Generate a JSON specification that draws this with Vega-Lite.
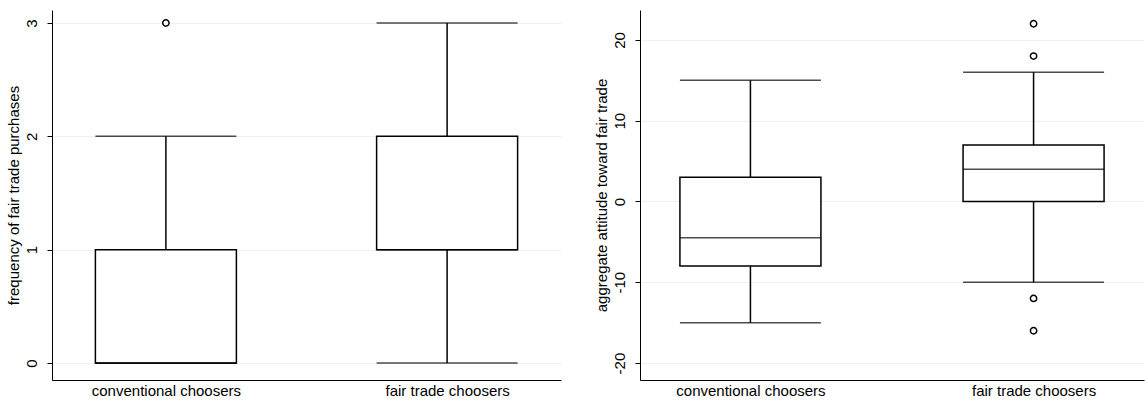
{
  "$schema": "https://vega.github.io/schema/vega-lite/v6.json",
  "padding": {"left": 5, "top": 10, "right": 2, "bottom": 0},
  "autosize": {"type": "pad"},
  "background": "white",
  "datasets": {
    "freq_boxes": [
      {"group": "conventional choosers", "lo": 0, "q1": 0, "median": 0, "q3": 1, "hi": 2},
      {"group": "fair trade choosers", "lo": 0, "q1": 1, "median": 1, "q3": 2, "hi": 3}
    ],
    "freq_out": [
      {"group": "conventional choosers", "value": 3}
    ],
    "att_boxes": [
      {"group": "conventional choosers", "lo": -15, "q1": -8, "median": -4.5, "q3": 3, "hi": 15},
      {"group": "fair trade choosers", "lo": -10, "q1": 0, "median": 4, "q3": 7, "hi": 16}
    ],
    "att_out": [
      {"group": "fair trade choosers", "value": 22},
      {"group": "fair trade choosers", "value": 18},
      {"group": "fair trade choosers", "value": -12},
      {"group": "fair trade choosers", "value": -16}
    ]
  },
  "config": {
    "view": {"stroke": null},
    "font": "Liberation Sans",
    "axis": {
      "labelFont": "Liberation Sans",
      "titleFont": "Liberation Sans",
      "labelFontSize": 15,
      "titleFontSize": 15,
      "titleFontWeight": "normal",
      "labelColor": "#000",
      "titleColor": "#000",
      "domainColor": "#000",
      "tickColor": "#000",
      "gridColor": "#eaf2f3",
      "gridWidth": 1
    }
  },
  "spacing": 33,
  "hconcat": [
    {
      "width": 509,
      "height": 370,
      "layer": [
        {
          "data": {"name": "freq_boxes"},
          "mark": {"type": "rule", "color": "#000", "strokeWidth": 1.5},
          "encoding": {
            "x": {"field": "group", "type": "nominal", "scale": {"type": "point", "padding": 0.405}, "axis": {"title": null, "ticks": false, "labelAngle": 0, "labelPadding": 3, "grid": false}},
            "y": {"field": "lo", "type": "quantitative", "scale": {"domain": [-0.15, 3.115], "nice": false, "zero": false}, "axis": {"title": "frequency of fair trade purchases", "values": [0, 1, 2, 3], "labelExpr": "datum.value < 0 ? '-' + abs(datum.value) : '' + datum.value", "labelAngle": -90, "tickSize": 5, "labelPadding": 8, "titlePadding": 3, "grid": true}},
            "y2": {"field": "hi"}
          }
        },
        {
          "data": {"name": "freq_boxes"},
          "mark": {"type": "tick", "color": "#000", "thickness": 1.5, "size": 141},
          "encoding": {"x": {"field": "group", "type": "nominal"}, "y": {"field": "lo", "type": "quantitative"}}
        },
        {
          "data": {"name": "freq_boxes"},
          "mark": {"type": "tick", "color": "#000", "thickness": 1.5, "size": 141},
          "encoding": {"x": {"field": "group", "type": "nominal"}, "y": {"field": "hi", "type": "quantitative"}}
        },
        {
          "data": {"name": "freq_boxes"},
          "mark": {"type": "bar", "width": 141, "fill": "white", "stroke": "#000", "strokeWidth": 1.5},
          "encoding": {"x": {"field": "group", "type": "nominal"}, "y": {"field": "q1", "type": "quantitative"}, "y2": {"field": "q3"}}
        },
        {
          "data": {"name": "freq_boxes"},
          "mark": {"type": "tick", "color": "#000", "thickness": 1.5, "size": 141},
          "encoding": {"x": {"field": "group", "type": "nominal"}, "y": {"field": "median", "type": "quantitative"}}
        },
        {
          "data": {"name": "freq_out"},
          "mark": {"type": "point", "shape": "circle", "filled": false, "stroke": "#000", "strokeWidth": 1.5, "size": 40, "opacity": 1},
          "encoding": {"x": {"field": "group", "type": "nominal"}, "y": {"field": "value", "type": "quantitative"}}
        }
      ]
    },
    {
      "width": 504,
      "height": 370,
      "layer": [
        {
          "data": {"name": "att_boxes"},
          "mark": {"type": "rule", "color": "#000", "strokeWidth": 1.5},
          "encoding": {
            "x": {"field": "group", "type": "nominal", "scale": {"type": "point", "padding": 0.39}, "axis": {"title": null, "ticks": false, "labelAngle": 0, "labelPadding": 3, "grid": false}},
            "y": {"field": "lo", "type": "quantitative", "scale": {"domain": [-22.1, 23.7], "nice": false, "zero": false}, "axis": {"title": "aggregate attitude toward fair trade", "values": [-20, -10, 0, 10, 20], "labelExpr": "datum.value < 0 ? '-' + abs(datum.value) : '' + datum.value", "labelAngle": -90, "tickSize": 5, "labelPadding": 8, "titlePadding": 3, "grid": true}},
            "y2": {"field": "hi"}
          }
        },
        {
          "data": {"name": "att_boxes"},
          "mark": {"type": "tick", "color": "#000", "thickness": 1.5, "size": 141},
          "encoding": {"x": {"field": "group", "type": "nominal"}, "y": {"field": "lo", "type": "quantitative"}}
        },
        {
          "data": {"name": "att_boxes"},
          "mark": {"type": "tick", "color": "#000", "thickness": 1.5, "size": 141},
          "encoding": {"x": {"field": "group", "type": "nominal"}, "y": {"field": "hi", "type": "quantitative"}}
        },
        {
          "data": {"name": "att_boxes"},
          "mark": {"type": "bar", "width": 141, "fill": "white", "stroke": "#000", "strokeWidth": 1.5},
          "encoding": {"x": {"field": "group", "type": "nominal"}, "y": {"field": "q1", "type": "quantitative"}, "y2": {"field": "q3"}}
        },
        {
          "data": {"name": "att_boxes"},
          "mark": {"type": "tick", "color": "#000", "thickness": 1.5, "size": 141},
          "encoding": {"x": {"field": "group", "type": "nominal"}, "y": {"field": "median", "type": "quantitative"}}
        },
        {
          "data": {"name": "att_out"},
          "mark": {"type": "point", "shape": "circle", "filled": false, "stroke": "#000", "strokeWidth": 1.5, "size": 40, "opacity": 1},
          "encoding": {"x": {"field": "group", "type": "nominal"}, "y": {"field": "value", "type": "quantitative"}}
        }
      ]
    }
  ]
}
